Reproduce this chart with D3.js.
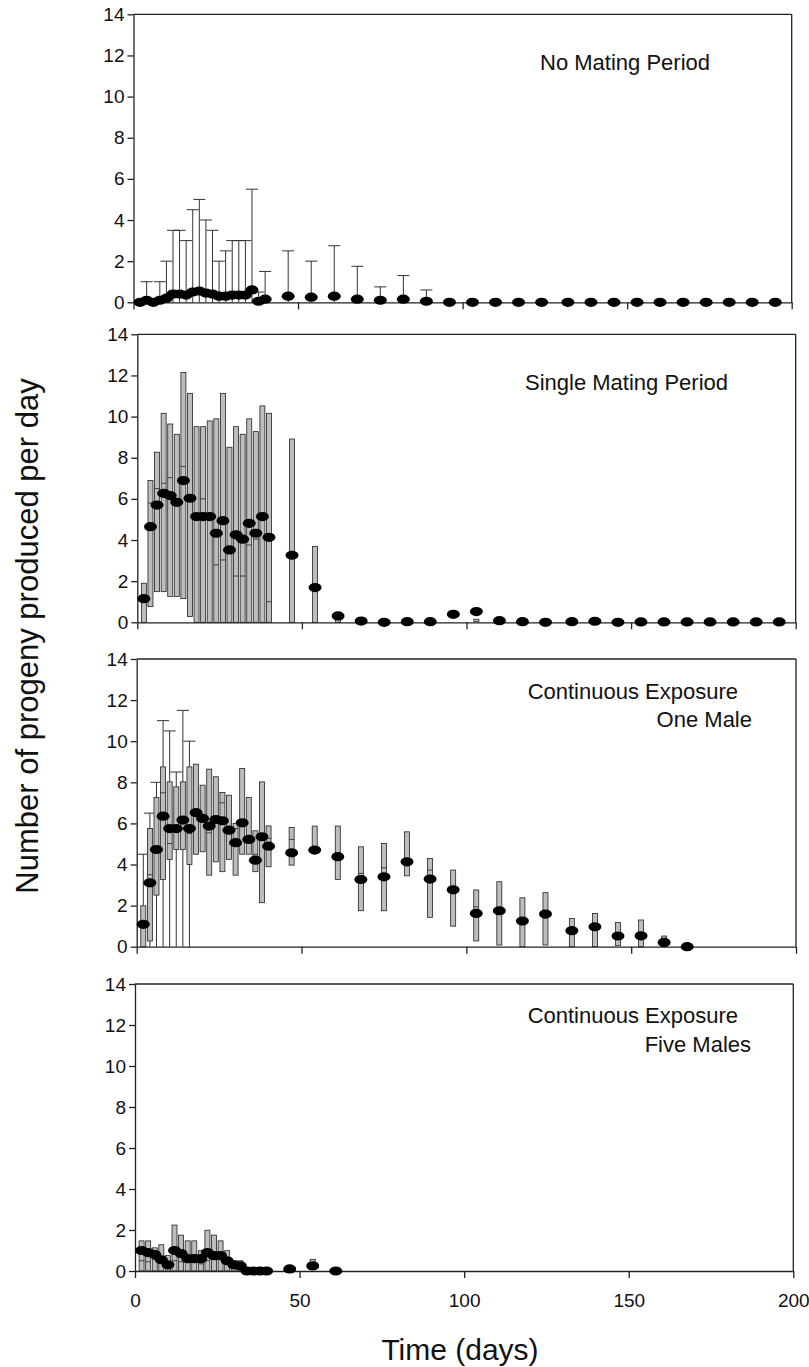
<!DOCTYPE html>
<html>
<head>
<meta charset="utf-8">
<script src="https://cdn.jsdelivr.net/npm/d3@7"></script>
<style>
  body{margin:0;background:#fff;}
  text{font-family:"Liberation Sans",Arial,Helvetica,sans-serif;fill:#111;}
</style>
</head>
<body>
<svg id="chart" width="809" height="1367"></svg>
<script>
// sampling days (every 2 days to day 40, then weekly)
var days = [2,4,6,8,10,12,14,16,18,20,22,24,26,28,30,32,34,36,38,40,
            47,54,61,68,75,82,89,96,103,110,117,124,132,139,146,153,160,167,174,181,188,195];
var xTicks = [0,50,100,150,200];
var yTicks = [0,2,4,6,8,10,12,14];
var _ = null;

// No mating period
var noMatingMean = [0,0.1,0,0.1,0.2,0.4,0.4,0.35,0.5,0.55,0.45,0.4,0.3,0.3,0.35,0.35,0.35,0.6,0.05,0.15,
                    0.3,0.25,0.3,0.15,0.1,0.15,0.05,0,0,0,0,0,0,0,0,0,0,0,0,0,0,0];
var noMatingWhiskHi = [_,1,_,1,2,3.5,3.5,3,4.5,5,4,3.5,2,2.5,3,3,3,5.5,0.5,1.5,
                       2.5,2,2.75,1.75,0.75,1.3,0.6,_,_,_,_,_,_,_,_,_,_,_,_,_,_,_];

// single mating period
var singleMean = [1.15,4.65,5.7,6.27,6.16,5.83,6.89,6.03,5.14,5.14,5.14,4.33,4.94,3.52,4.25,4.04,4.81,4.33,5.14,4.13,
                  3.26,1.69,0.31,0.06,0,0.03,0.03,0.39,0.52,0.08,0.03,0,0.03,0.05,0,0.02,0.02,0.02,0.02,0.02,0.02,0.02];
var singleBoxLo = [0,0.76,1.49,1.49,1.25,1.25,1.15,0.28,0,0,0,0,0,0,0,0,0,0,0,0,
                   0,0,0,_,_,_,_,_,0.03,_,_,_,_,_,_,_,_,_,_,_,_,_];
var singleBoxHi = [1.9,6.89,8.27,10.16,9.64,9.14,12.14,11.13,9.51,9.51,9.79,9.89,11.13,8.51,9.51,9.14,9.89,9.27,10.52,10.16,
                   8.91,3.68,0.3,_,_,_,_,_,0.15,_,_,_,_,_,_,_,_,_,_,_,_,_];
var singleMedian = [_,5.8,6.5,6.76,7.03,_,7.57,6.0,_,6.0,_,2.79,3.03,_,2.25,2.25,3.76,4.04,_,1.0,
                    _,_,_,_,_,_,_,_,_,_,_,_,_,_,_,_,_,_,_,_,_,_];

// continuous exposure, one male
var oneMaleMean = [1.09,3.11,4.73,6.35,5.75,5.75,6.16,5.75,6.52,6.24,5.87,6.19,6.13,5.67,5.06,6.03,5.22,4.21,5.35,4.89,
                   4.57,4.7,4.38,3.27,3.4,4.13,3.29,2.77,1.62,1.75,1.25,1.59,0.78,0.97,0.52,0.53,0.21,0,_,_,_,_];
var oneMaleBoxLo = [0,0.28,2.51,3.27,4.25,4.73,4.73,4.0,4.5,4.62,3.48,4.13,3.65,4.25,3.48,4.5,4.5,3.65,2.14,3.89,
                    3.97,4.67,3.27,1.75,1.75,3.45,1.43,1.0,0.28,0.08,0,0.08,0,0,0.05,0,0,_,_,_,_,_];
var oneMaleBoxHi = [1.99,5.75,7.26,8.75,8.02,7.78,8.02,8.75,8.88,7.86,8.64,8.27,7.5,7.37,6.0,8.67,7.26,5.64,8.02,5.88,
                    5.8,5.87,5.87,4.86,5.02,5.59,4.29,3.73,2.76,3.16,2.38,2.63,1.38,1.62,1.18,1.3,0.52,_,_,_,_,_];
var oneMaleMedian = [_,3.5,_,7.49,5.02,_,_,5.51,_,_,5.54,_,7.0,_,5.75,_,_,4.5,_,5.27,
                     5.22,_,_,3.57,3.84,_,3.73,_,1.94,_,_,_,_,_,_,_,_,_,_,_,_,_];
var oneMaleWhiskHi = [4.5,6.5,8.0,11.0,10.5,8.5,11.5,10.0,_,_,_,_,_,_,_,_,_,_,_,_,
                      _,_,_,_,_,_,_,_,_,_,_,_,_,_,_,_,_,_,_,_,_,_];
var oneMaleWhiskLo = [_,0,0,0,0,0,0,0,_,_,_,_,_,_,_,_,_,_,_,_,
                      _,_,_,_,_,_,_,_,_,_,_,_,_,_,_,_,_,_,_,_,_,_];

// continuous exposure, five males
var fiveMaleMean = [1.0,0.9,0.8,0.55,0.3,1.0,0.85,0.6,0.6,0.6,0.9,0.75,0.75,0.5,0.3,0.25,0,0,0,0,
                    0.1,0.25,0,_,_,_,_,_,_,_,_,_,_,_,_,_,_,_,_,_,_,_];
var fiveMaleBoxLo = [0,0,0,0,0,0,0,0,0,0,0,0,0,0,0,0,_,_,_,_,
                     _,0.1,_,_,_,_,_,_,_,_,_,_,_,_,_,_,_,_,_,_,_,_];
var fiveMaleBoxHi = [1.47,1.47,1.13,1.28,0.75,2.24,1.75,1.47,1.47,0.99,1.99,1.75,1.47,0.99,0.5,0.5,_,_,_,_,
                     _,0.57,_,_,_,_,_,_,_,_,_,_,_,_,_,_,_,_,_,_,_,_];
var fiveMaleMedian = [0.5,0.45,0.55,_,_,0.5,0.45,_,_,0.35,0.5,_,_,_,_,_,_,_,_,_,
                      _,_,_,_,_,_,_,_,_,_,_,_,_,_,_,_,_,_,_,_,_,_];

var panels = [
  {title:['No Mating Period'], titleX:[710], titleY:[70],
   mean:noMatingMean, boxLo:null, boxHi:null, median:null, whiskHi:noMatingWhiskHi, whiskLo:null,
   left:133.5, right:791.7, top:14.3, bottom:302.3},
  {title:['Single Mating Period'], titleX:[728], titleY:[390],
   mean:singleMean, boxLo:singleBoxLo, boxHi:singleBoxHi, median:singleMedian, whiskHi:null, whiskLo:null,
   left:137.3, right:795.7, top:334.3, bottom:622.3},
  {title:['Continuous Exposure','One Male'], titleX:[738,752], titleY:[699,727],
   mean:oneMaleMean, boxLo:oneMaleBoxLo, boxHi:oneMaleBoxHi, median:oneMaleMedian, whiskHi:oneMaleWhiskHi, whiskLo:oneMaleWhiskLo,
   left:136.7, right:796, top:659, bottom:946.7},
  {title:['Continuous Exposure','Five Males'], titleX:[738,751], titleY:[1023,1052],
   mean:fiveMaleMean, boxLo:fiveMaleBoxLo, boxHi:fiveMaleBoxHi, median:fiveMaleMedian, whiskHi:null, whiskLo:null,
   left:135, right:793.3, top:984, bottom:1271}
];

var svg = d3.select('#chart');
var lineCol = '#222';
var boxW = 5, capW = 12;

panels.forEach(function(p, pi){
  var x = d3.scaleLinear().domain([0,200]).range([p.left,p.right]);
  var y = d3.scaleLinear().domain([0,14]).range([p.bottom,p.top]);
  var g = svg.append('g').attr('class','panel');

  var pts = days.map(function(d,i){
    return {day:d,
      mean:p.mean[i],
      lo:p.boxLo ? p.boxLo[i] : null,
      hi:p.boxHi ? p.boxHi[i] : null,
      med:p.median ? p.median[i] : null,
      wHi:p.whiskHi ? p.whiskHi[i] : null,
      wLo:p.whiskLo ? p.whiskLo[i] : null};
  });

  // frame top and right
  g.append('line').attr('x1',x(0)).attr('x2',x(200)).attr('y1',y(14)).attr('y2',y(14))
    .attr('stroke',lineCol).attr('stroke-width',1.3);
  g.append('line').attr('x1',x(200)).attr('x2',x(200)).attr('y1',y(14)).attr('y2',y(0))
    .attr('stroke',lineCol).attr('stroke-width',1.3);

  // upper whiskers
  var wu = pts.filter(function(d){return d.wHi!=null;});
  g.selectAll('.wup').data(wu).enter().append('line').attr('class','wup')
    .attr('x1',function(d){return x(d.day)}).attr('x2',function(d){return x(d.day)})
    .attr('y1',function(d){return y(d.hi!=null?d.hi:0)}).attr('y2',function(d){return y(d.wHi)})
    .attr('stroke','#333').attr('stroke-width',1);
  g.selectAll('.wcap').data(wu).enter().append('line').attr('class','wcap')
    .attr('x1',function(d){return x(d.day)-capW/2}).attr('x2',function(d){return x(d.day)+capW/2})
    .attr('y1',function(d){return y(d.wHi)}).attr('y2',function(d){return y(d.wHi)})
    .attr('stroke','#333').attr('stroke-width',1);

  // lower whiskers
  var wl = pts.filter(function(d){return d.wLo!=null;});
  g.selectAll('.wlo').data(wl).enter().append('line').attr('class','wlo')
    .attr('x1',function(d){return x(d.day)}).attr('x2',function(d){return x(d.day)})
    .attr('y1',function(d){return y(d.lo)}).attr('y2',function(d){return y(d.wLo)})
    .attr('stroke','#333').attr('stroke-width',1);

  // boxes
  var bx = pts.filter(function(d){return d.hi!=null;});
  g.selectAll('.box').data(bx).enter().append('rect').attr('class','box')
    .attr('x',function(d){return x(d.day)-boxW/2})
    .attr('width',boxW)
    .attr('y',function(d){return y(d.hi)})
    .attr('height',function(d){return Math.max(0.5,y(d.lo)-y(d.hi))})
    .attr('fill','#bdbdbd').attr('stroke','#222').attr('stroke-width',0.8);

  // medians
  var md = pts.filter(function(d){return d.med!=null;});
  g.selectAll('.med').data(md).enter().append('line').attr('class','med')
    .attr('x1',function(d){return x(d.day)-boxW/2}).attr('x2',function(d){return x(d.day)+boxW/2})
    .attr('y1',function(d){return y(d.med)}).attr('y2',function(d){return y(d.med)})
    .attr('stroke','#222').attr('stroke-width',0.8);

  // axes
  var xAxis = d3.axisBottom(x).tickValues(xTicks).tickSize(7).tickSizeOuter(0).tickPadding(16)
    .tickFormat(pi==3 ? d3.format('d') : function(){return '';});
  var gx = g.append('g').attr('transform','translate(0,'+y(0)+')').call(xAxis);
  var yAxis = d3.axisLeft(y).tickValues(yTicks).tickSize(6).tickSizeOuter(0).tickPadding(3);
  var gy = g.append('g').attr('transform','translate('+x(0)+',0)').call(yAxis);
  [gx,gy].forEach(function(a){
    a.select('.domain').attr('stroke',lineCol).attr('stroke-width',1.3);
    a.selectAll('.tick line').attr('stroke',lineCol).attr('stroke-width',1.3);
    a.selectAll('.tick text').style('font-size','19px').attr('fill','#111')
      .style('font-family','"Liberation Sans",Arial,sans-serif');
  });

  // means
  var mn = pts.filter(function(d){return d.mean!=null;});
  g.selectAll('.mean').data(mn).enter().append('ellipse').attr('class','mean')
    .attr('cx',function(d){return x(d.day)})
    .attr('cy',function(d){return y(d.mean)})
    .attr('rx',6.5).attr('ry',4.6)
    .attr('fill','#000');

  // panel label
  p.title.forEach(function(t,k){
    g.append('text').text(t)
      .attr('x',p.titleX[k]).attr('y',p.titleY[k])
      .attr('text-anchor','end')
      .style('font-size','22px');
  });
});

svg.append('text').text('Time (days)')
  .attr('x',460).attr('y',1360)
  .attr('text-anchor','middle')
  .style('font-size','30px');

svg.append('text').text('Number of progeny produced per day')
  .attr('transform','translate(38,636) rotate(-90)')
  .attr('text-anchor','middle')
  .style('font-size','31px');
</script>
</body>
</html>
